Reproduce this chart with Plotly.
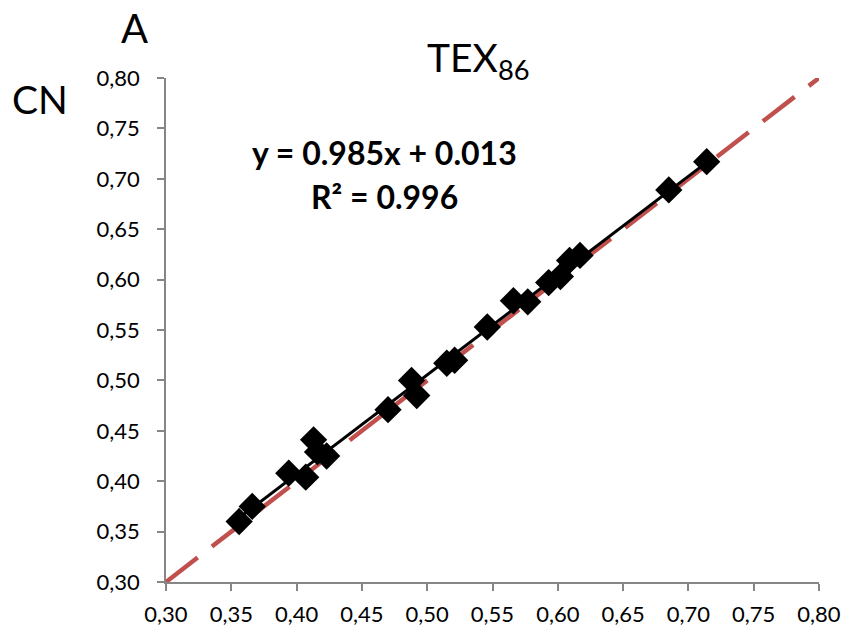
import plotly.graph_objects as go

# TEX86 computed two ways: x (reference) vs y (CN)
tex_x = [0.356, 0.366, 0.394, 0.407, 0.413, 0.416, 0.423,
         0.470, 0.488, 0.492, 0.515, 0.521,
         0.546, 0.566, 0.577, 0.593, 0.602, 0.609, 0.617,
         0.685, 0.714]
tex_y = [0.360, 0.375, 0.408, 0.404, 0.441, 0.429, 0.425,
         0.471, 0.500, 0.485, 0.517, 0.520,
         0.553, 0.579, 0.578, 0.597, 0.603, 0.619, 0.624,
         0.689, 0.717]

slope = 0.985
intercept = 0.013
r_squared = 0.996

axis_ticks = [0.30, 0.35, 0.40, 0.45, 0.50, 0.55, 0.60, 0.65, 0.70, 0.75, 0.80]

font_family = "Lato, 'Open Sans', sans-serif"

fig = go.Figure()

# 1:1 reference line
fig.add_trace(go.Scatter(
    x=[0.30, 0.80], y=[0.30, 0.80], mode="lines",
    line=dict(color="#C0504D", width=4.5, dash="40px,18px"),
    hoverinfo="skip", showlegend=False,
))

# data points
fig.add_trace(go.Scatter(
    x=tex_x, y=tex_y, mode="markers",
    marker=dict(symbol="diamond", size=21, color="black"),
    showlegend=False,
))

# linear trendline over the data range
x0, x1 = min(tex_x), max(tex_x)
fig.add_trace(go.Scatter(
    x=[x0, x1], y=[slope * x0 + intercept, slope * x1 + intercept],
    mode="lines", line=dict(color="black", width=3),
    hoverinfo="skip", showlegend=False,
))

axis_common = dict(
    range=[0.30, 0.80], tickvals=axis_ticks, tickformat=".2f",
    showgrid=False, zeroline=False, showline=True, automargin=False,
    linecolor="#868686", linewidth=1.5,
    ticks="outside", ticklen=7, tickcolor="#868686", tickwidth=1.5,
    tickfont=dict(family=font_family, size=22, color="black"),
)

fig.update_layout(
    width=846, height=633,
    margin=dict(l=166, r=27, t=78, b=51),
    paper_bgcolor="white", plot_bgcolor="white",
    separators=", ",
    xaxis=dict(**axis_common, ticklabelstandoff=5),
    yaxis=dict(**axis_common, ticklabelstandoff=13),
    annotations=[
        dict(text="A", xref="paper", yref="paper", x=-0.049, y=1.099,
             xanchor="center", yanchor="middle", showarrow=False,
             font=dict(family=font_family, size=40, color="black")),
        dict(text="CN", xref="paper", yref="paper", x=-0.193, y=0.958,
             xanchor="center", yanchor="middle", showarrow=False,
             font=dict(family=font_family, size=39, color="black")),
        dict(text="TEX<sub>86</sub>", xref="paper", yref="paper", x=0.478, y=1.035,
             xanchor="center", yanchor="middle", showarrow=False,
             font=dict(family=font_family, size=39, color="black")),
        dict(text=f"<b>y = {slope:.3f}x + {intercept:.3f}</b>",
             xref="paper", yref="paper", x=0.335, y=0.853,
             xanchor="center", yanchor="middle", showarrow=False,
             font=dict(family=font_family, size=32, color="black")),
        dict(text=f"<b>R² = {r_squared:.3f}</b>",
             xref="paper", yref="paper", x=0.335, y=0.764,
             xanchor="center", yanchor="middle", showarrow=False,
             font=dict(family=font_family, size=32, color="black")),
    ],
)

fig.write_html("out.html")
